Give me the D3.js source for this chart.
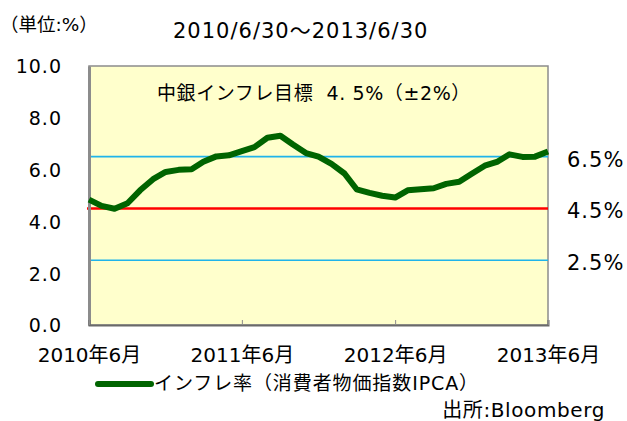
<!DOCTYPE html>
<meta charset="utf-8">
<style>
    body { margin: 0; background: #fff; }
    text { font-family: "DejaVu Sans", "Noto Sans CJK JP", sans-serif; fill: #000; white-space: pre; }
</style>
<body>
<script src="https://cdn.jsdelivr.net/npm/d3@7"></script>
<script>

    // monthly CPI (IPCA, YoY %), 2010/6 .. 2013/6
    var months = d3.range(37).map(function (i) {
        return new Date(2010, 5 + i, 1);
    });
    var ipca = [4.84, 4.60, 4.49, 4.70, 5.20, 5.63, 5.91,
        5.99, 6.01, 6.30, 6.51, 6.55, 6.71, 6.87, 7.23, 7.31, 6.97, 6.64, 6.50,
        6.22, 5.85, 5.24, 5.10, 4.99, 4.92, 5.20, 5.24, 5.28, 5.45, 5.53, 5.84,
        6.15, 6.31, 6.59, 6.49, 6.50, 6.70];

    var targetLevels = [6.5, 4.5, 2.5];
    var targetLabels = ["6.5%", "4.5%", "2.5%"];
    var yTicks = [0, 2, 4, 6, 8, 10];
    var xTicks = [new Date(2010, 5, 1), new Date(2011, 5, 1), new Date(2012, 5, 1), new Date(2013, 5, 1)];
    var xTickLabels = ["2010年6月", "2011年6月", "2012年6月", "2013年6月"];

    var W = 627, H = 421;
    var plotL = 89, plotR = 548, plotT = 66, plotB = 325;

    var svg = d3.select("body").append("svg")
        .attr("width", W)
        .attr("height", H);

    var x = d3.scaleTime()
        .domain([months[0], months[months.length - 1]])
        .range([plotL, plotR]);
    var y = d3.scaleLinear()
        .domain([0, 10])
        .range([plotB, plotT]);

    // plot background
    svg.append("rect")
        .attr("x", plotL).attr("y", plotT)
        .attr("width", plotR - plotL).attr("height", plotB - plotT)
        .attr("fill", "#ffffcc")
        .attr("stroke", "#8c8c8c")
        .attr("stroke-width", 1.5);

    // target lines
    svg.selectAll("line.target")
        .data(targetLevels)
        .enter().append("line")
        .attr("class", "target")
        .attr("x1", function (d) { return d === 4.5 ? plotL - 2 : plotL; })
        .attr("x2", plotR)
        .attr("y1", function (d) { return y(d); })
        .attr("y2", function (d) { return y(d); })
        .attr("stroke", function (d) { return d === 4.5 ? "#ff0000" : "#1fb4ea"; })
        .attr("stroke-width", function (d) { return d === 4.5 ? 2.5 : 1.6; });

    svg.selectAll("text.target")
        .data(targetLevels)
        .enter().append("text")
        .attr("class", "target")
        .attr("x", 567)
        .attr("y", function (d) { return y(d) + 10; })
        .attr("font-size", 21)
        .attr("letter-spacing", 1)
        .text(function (d, i) { return targetLabels[i]; });

    // axes
    var yAxis = d3.axisLeft(y)
        .tickValues(yTicks)
        .tickSize(0)
        .tickPadding(27)
        .tickFormat(d3.format(".1f"));
    var gy = svg.append("g")
        .attr("transform", "translate(" + plotL + ",0)")
        .call(yAxis)
        .attr("font-size", 19)
        .attr("font-family", null);
    gy.select(".domain").attr("stroke", "#8c8c8c").attr("stroke-width", 3);
    gy.selectAll("text")
        .attr("dy", "0.36em")
        .attr("letter-spacing", 1);

    var xAxis = d3.axisBottom(x)
        .tickValues(xTicks)
        .tickSize(-5)
        .tickPadding(23)
        .tickFormat(function (d, i) { return xTickLabels[i]; });
    var gx = svg.append("g")
        .attr("transform", "translate(0," + plotB + ")")
        .call(xAxis)
        .attr("font-size", 20)
        .attr("font-family", null);
    gx.select(".domain").attr("stroke", "#6a6a6a").attr("stroke-width", 2);
    gx.selectAll(".tick line").attr("stroke", "#8c8c8c");

    // inflation line
    var line = d3.line()
        .x(function (d, i) { return x(months[i]); })
        .y(function (d) { return y(d); });

    svg.append("path")
        .datum(ipca)
        .attr("d", line)
        .attr("fill", "none")
        .attr("stroke", "#006400")
        .attr("stroke-width", 6)
        .attr("stroke-linejoin", "round");

    // annotation in plot
    svg.append("text")
        .attr("x", 157)
        .attr("y", 100)
        .attr("font-size", 19)
        .attr("letter-spacing", 0.6)
        .text("中銀インフレ目標  4. 5%（±2%）");

    // header texts
    svg.append("text")
        .attr("x", 0).attr("y", 31)
        .attr("font-size", 18.5)
        .text("（単位:%）");

    svg.append("text")
        .attr("x", 173).attr("y", 38)
        .attr("font-size", 21)
        .attr("letter-spacing", 1)
        .text("2010/6/30〜2013/6/30");

    // legend
    svg.append("line")
        .attr("x1", 98).attr("x2", 151)
        .attr("y1", 384).attr("y2", 384)
        .attr("stroke", "#006400")
        .attr("stroke-width", 6)
        .attr("stroke-linecap", "round");
    svg.append("text")
        .attr("x", 154).attr("y", 390)
        .attr("font-size", 19)
        .attr("letter-spacing", 0.9)
        .text("インフレ率（消費者物価指数IPCA）");

    svg.append("text")
        .attr("x", 605).attr("y", 417)
        .attr("text-anchor", "end")
        .attr("font-size", 20)
        .attr("letter-spacing", 0.6)
        .text("出所:Bloomberg");

</script>
</body>
</html>
